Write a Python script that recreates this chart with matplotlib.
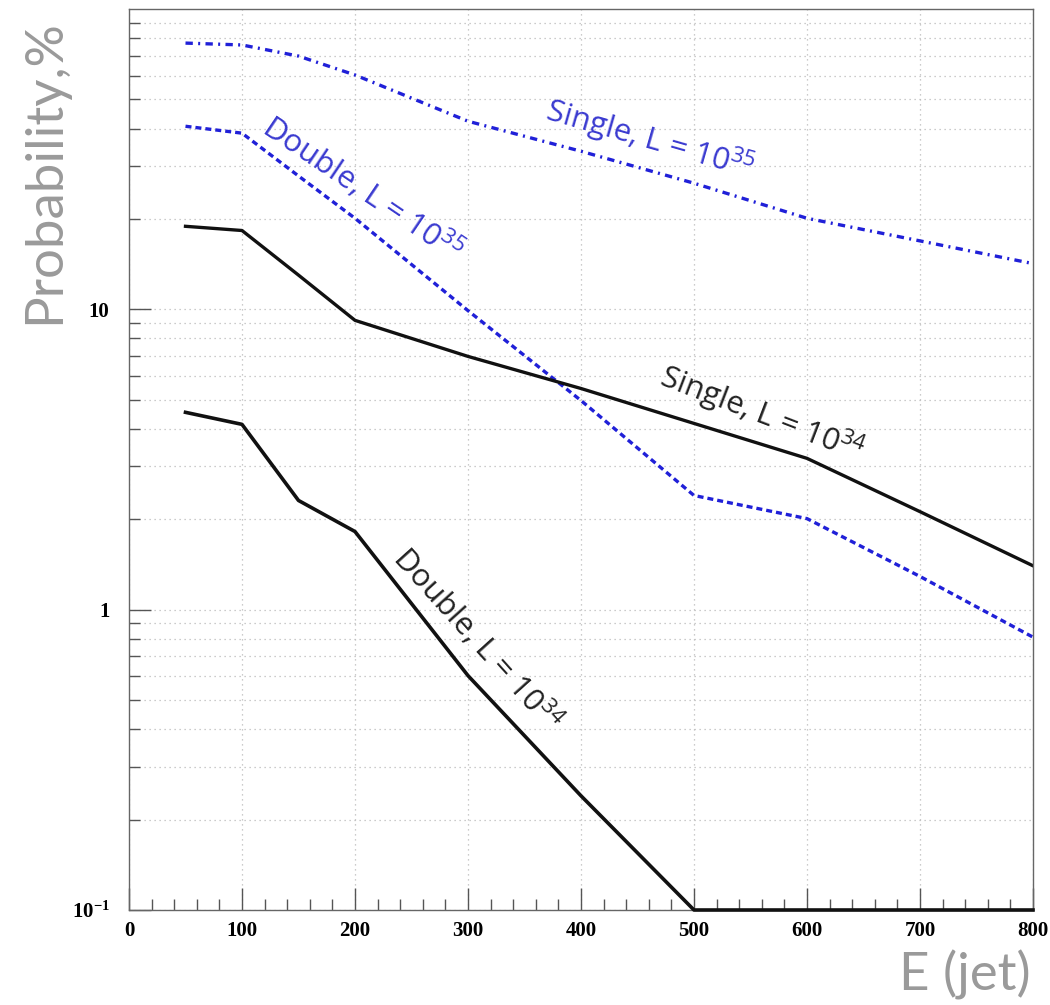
import numpy as np
import matplotlib.pyplot as plt
from matplotlib.ticker import MultipleLocator, LogLocator, NullFormatter, FixedLocator, FixedFormatter

plt.rcParams['mathtext.default'] = 'regular'

# jet energy and probabilities (%)
energy = [50, 100, 150, 200, 300, 400, 500, 600, 700, 800]
single_35 = [77.0, 75.9, 69.7, 60.3, 42.3, 33.6, 26.3, 20.1, 16.9, 14.2]
double_35 = [40.7, 38.6, 27.8, 20.1, 9.9, 4.97, 2.40, 2.01, 1.29, 0.81]
single_34 = [18.9, 18.3, 13.0, 9.19, 6.97, 5.45, 4.17, 3.19, 2.12, 1.40]
double_34 = [4.54, 4.14, 2.31, 1.82, 0.603, 0.240, 0.1, 0.1, 0.1, 0.1]

x_ticks = [0, 100, 200, 300, 400, 500, 600, 700, 800]
y_ticks = [0.1, 1, 10]
y_tick_labels = ['10$^{-1}$', '1', '10']

# curve labels: text, x, y, rotation, colour
curve_labels = [
    ('Single, L = 10$^{35}$', 461, 36.6, -16, '#3a3ad0'),
    ('Double, L = 10$^{35}$', 207, 25.3, -34, '#3a3ad0'),
    ('Single, L = 10$^{34}$', 560, 4.47, -21, '#222222'),
    ('Double, L = 10$^{34}$', 309, 0.80, -48, '#222222'),
]

blue = '#2020d8'

fig = plt.figure(figsize=(10.5, 10.05), dpi=100)
ax = fig.add_axes([129/1050, 1 - 910/1005, 904/1050, 901/1005])

ax.plot(energy, single_35, color=blue, lw=2.4, ls=(0, (2.2, 1.6, 0.6, 1.6)))
ax.plot(energy, double_35, color=blue, lw=2.4, ls=(0, (1.8, 1.2)))
ax.plot(energy, single_34, color='#111111', lw=2.4)
ax.plot(energy, double_34, color='#111111', lw=2.6, clip_on=False, zorder=5)

ax.set_yscale('log')
ax.set_xlim(0, 800)
ax.set_ylim(0.1, 100)

ax.xaxis.set_major_locator(FixedLocator(x_ticks))
ax.xaxis.set_minor_locator(MultipleLocator(20))
ax.yaxis.set_major_locator(FixedLocator(y_ticks))
ax.yaxis.set_major_formatter(FixedFormatter(y_tick_labels))
ax.yaxis.set_minor_locator(LogLocator(base=10, subs=np.arange(2, 10)))
ax.yaxis.set_minor_formatter(NullFormatter())

for lab in ax.get_xticklabels() + ax.get_yticklabels():
    lab.set_family('Liberation Serif')
    lab.set_fontweight('bold')
    lab.set_fontsize(15)

ax.tick_params(which='major', direction='in', length=16, width=1, color='#555555', pad=8)
ax.tick_params(which='minor', direction='in', length=8, width=1, color='#555555')
ax.tick_params(axis='y', which='major', pad=14)
ax.tick_params(top=False, right=False)

# grid on every major and minor position
ax.grid(True, which='major', axis='x', color='#bbbbbb', ls=(0, (1, 3)), lw=0.9)
ax.grid(True, which='both', axis='y', color='#bbbbbb', ls=(0, (1, 3)), lw=0.9)

for s in ax.spines.values():
    s.set_color('#666666')
    s.set_linewidth(1.0)

for text, x, y, rot, col in curve_labels:
    ax.text(x, y, text, rotation=rot, rotation_mode='anchor', ha='center', va='center',
            color=col, fontsize=22.5, family='Open Sans')

fig.text(45/1050, 1 - 172/1005, 'Probability,%', rotation=90, ha='center', va='center',
         fontsize=38, color='#9a9a9a', family='Lato')
fig.text(1031/1050, 1 - 975/1005, 'E (jet)', ha='right', va='center',
         fontsize=38, color='#9a9a9a', family='Lato')

fig.savefig('out.png', dpi=100)
